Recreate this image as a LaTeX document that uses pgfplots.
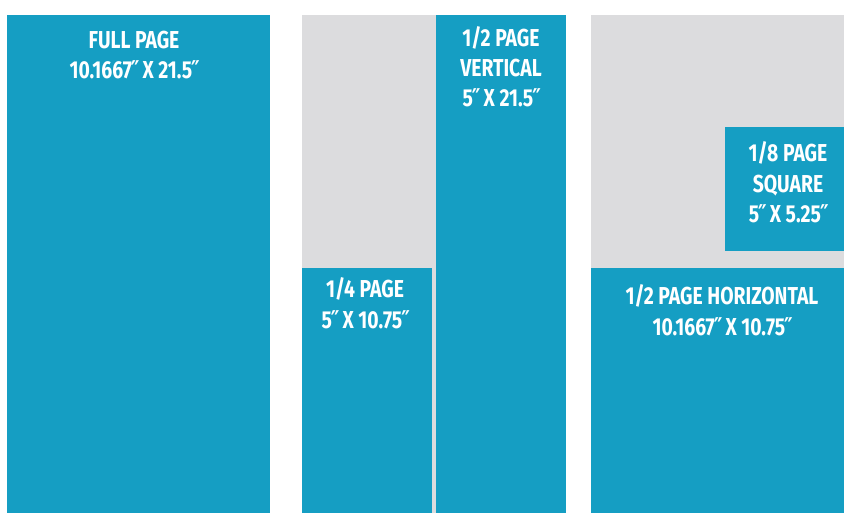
\documentclass[border=0pt]{standalone}
\usepackage{fontspec}
\newfontfamily\lab{Fira Sans}[FakeStretch=0.79]
\newfontfamily\dq{DejaVu Sans}[FakeStretch=0.79]
\newcommand\inch{\kern-1pt{\dq\bfseries ″}\kern-1.5pt}
\usepackage{pgfplots}
\pgfplotsset{compat=1.18}
\definecolor{adblue}{HTML}{159EC3}
\definecolor{adgray}{HTML}{DCDCDE}
\tikzset{lbl/.style={text=white, anchor=base, inner sep=0pt,
    font=\lab\bfseries\fontsize{24.5}{30}\selectfont}}

\begin{document}
\begin{tikzpicture}
\begin{axis}[
    scale only axis,
    width=844pt, height=513pt,
    xmin=0, xmax=844,
    ymin=0, ymax=513,
    y dir=reverse,
    hide axis,
    clip=false,
]
% background
\addplot[draw=none, fill=white] coordinates {(0,0)(844,0)(844,513)(0,513)} -- cycle;
% gray page outlines
\addplot[draw=none, fill=adgray] coordinates {(302,15)(566,15)(566,513)(302,513)} -- cycle;
\addplot[draw=none, fill=adgray] coordinates {(591,15)(844,15)(844,513)(591,513)} -- cycle;
% ad sizes
\addplot[draw=none, fill=adblue] coordinates {(7,15)(270,15)(270,513)(7,513)} -- cycle;
\addplot[draw=none, fill=adblue] coordinates {(302,268)(432,268)(432,513)(302,513)} -- cycle;
\addplot[draw=none, fill=adblue] coordinates {(436,15)(566,15)(566,513)(436,513)} -- cycle;
\addplot[draw=none, fill=adblue] coordinates {(725,127)(844,127)(844,251)(725,251)} -- cycle;
\addplot[draw=none, fill=adblue] coordinates {(591,268)(844,268)(844,513)(591,513)} -- cycle;

% labels
\node[lbl] at (axis cs:134,49) {FULL PAGE};
\node[lbl] at (axis cs:134,79) {10.1667\inch{} X 21.5\inch};

\node[lbl] at (axis cs:365,298) {1/4 PAGE};
\node[lbl] at (axis cs:365,328) {5\inch{} X 10.75\inch};

\node[lbl] at (axis cs:501,47) {1/2 PAGE};
\node[lbl] at (axis cs:501,77) {VERTICAL};
\node[lbl] at (axis cs:501,107) {5\inch{} X 21.5\inch};

\node[lbl] at (axis cs:788,162) {1/8 PAGE};
\node[lbl] at (axis cs:788,193) {SQUARE};
\node[lbl] at (axis cs:788,223) {5\inch{} X 5.25\inch};

\node[lbl] at (axis cs:722,305) {1/2 PAGE HORIZONTAL};
\node[lbl] at (axis cs:722,335) {10.1667\inch{} X 10.75\inch};
\end{axis}
\end{tikzpicture}
\end{document}
